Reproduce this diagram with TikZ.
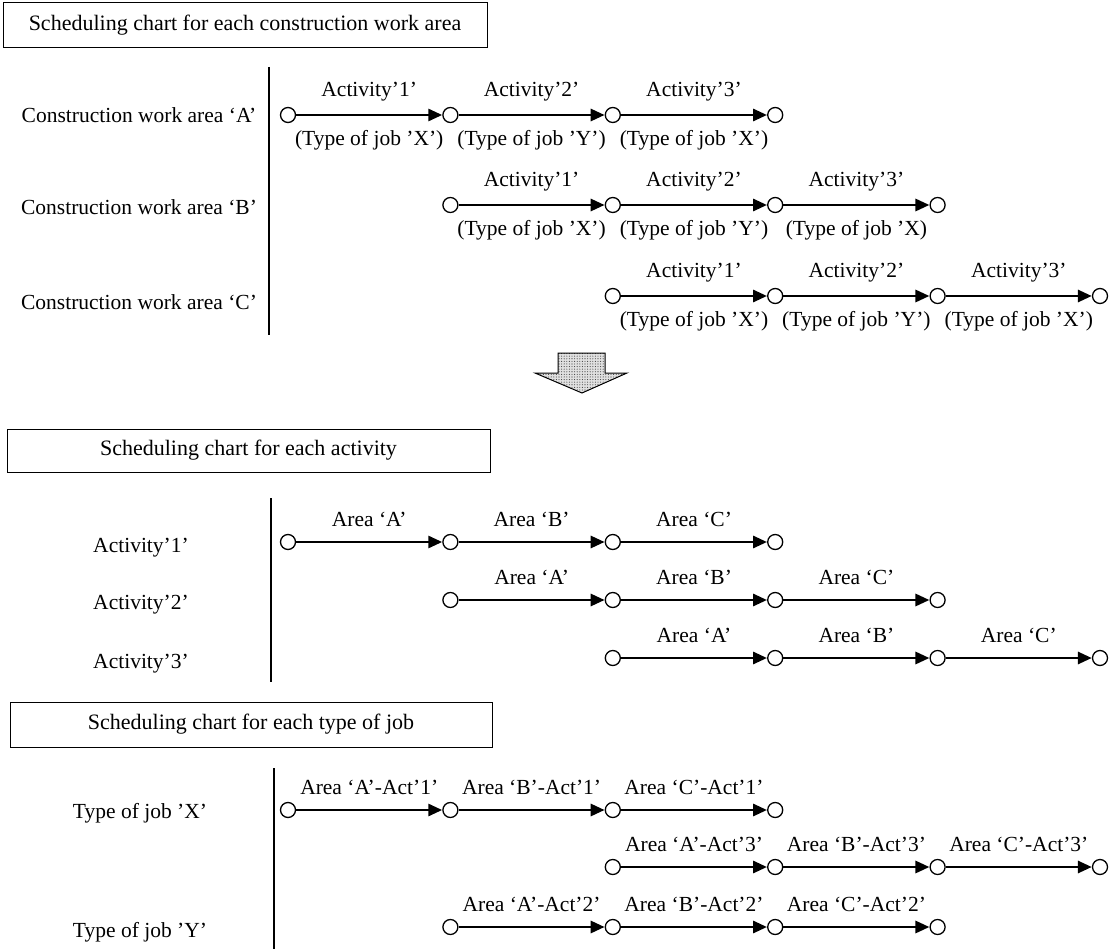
\documentclass[tikz,border=0pt]{standalone}
\usepackage{fontspec}
\setmainfont{Liberation Serif}
\usetikzlibrary{arrows.meta,patterns.meta}
\begin{document}
\begin{tikzpicture}[x=1pt,y=-1pt,
  txt/.style={font=\fontsize{21.5}{25}\selectfont, inner sep=0pt},
  rowlab/.style={txt},
  ev/.style={circle, draw, line width=1.3pt, minimum size=15pt, inner sep=0pt, fill=white},
  act/.style={line width=2.9pt, -{Triangle[length=14pt,width=12pt]}},
  tup/.style={txt, midway, yshift=23pt},
  tdn/.style={txt, midway, yshift=-25pt},
  axis/.style={line width=1.4pt}]
\useasboundingbox (0,0) rectangle (1113,949);
\newcommand{\evrow}[3]{\foreach \k in {0,...,3}{\node[ev] (#1\k) at ({288+162.4*(#3+\k)},#2) {};}}

% ---------- Section 1 ----------
\node[draw, line width=1pt, minimum width=484pt, minimum height=45pt, font=\fontsize{22}{26}\selectfont, inner sep=0pt] (box1) at (245,25.5) {Scheduling chart for each construction work area};
\coordinate (v1t) at (269,67);
\coordinate (v1b) at (269,335);
\draw[axis] (v1t) -- (v1b);
\node[rowlab] (la) at (139,115) {Construction work area ‘A’};
\node[rowlab] (lb) at (139,207) {Construction work area ‘B’};
\node[rowlab] (lc) at (139,302) {Construction work area ‘C’};

\evrow{ra}{115}{0}
\draw[act] (ra0) -- (ra1) node[tup]{Activity’1’} node[tdn]{(Type of job ’X’)};
\draw[act] (ra1) -- (ra2) node[tup]{Activity’2’} node[tdn]{(Type of job ’Y’)};
\draw[act] (ra2) -- (ra3) node[tup]{Activity’3’} node[tdn]{(Type of job ’X’)};

\evrow{rb}{205}{1}
\draw[act] (rb0) -- (rb1) node[tup]{Activity’1’} node[tdn]{(Type of job ’X’)};
\draw[act] (rb1) -- (rb2) node[tup]{Activity’2’} node[tdn]{(Type of job ’Y’)};
\draw[act] (rb2) -- (rb3) node[tup]{Activity’3’} node[tdn]{(Type of job ’X)};

\evrow{rc}{296}{2}
\draw[act] (rc0) -- (rc1) node[tup]{Activity’1’} node[tdn]{(Type of job ’X’)};
\draw[act] (rc1) -- (rc2) node[tup]{Activity’2’} node[tdn]{(Type of job ’Y’)};
\draw[act] (rc2) -- (rc3) node[tup]{Activity’3’} node[tdn]{(Type of job ’X’)};

% big arrow
\draw[line width=1pt, preaction={fill=black!12}, pattern={Dots[distance=2.6pt,radius=0.55pt]}, pattern color=black!75]
  (558,353) -- (605,353) -- (605,373) -- (627,373) -- (582,393) -- (535,373) -- (558,373) -- cycle;

% ---------- Section 2 ----------
\node[draw, line width=1pt, minimum width=483pt, minimum height=43pt, font=\fontsize{22}{26}\selectfont, inner sep=0pt] (box2) at (248.5,450.5) {Scheduling chart for each activity};
\coordinate (v2t) at (271,498);
\coordinate (v2b) at (271,682);
\draw[axis] (v2t) -- (v2b);
\node[rowlab] (l1) at (141,548) {Activity’1’};
\node[rowlab] (l2) at (141,605) {Activity’2’};
\node[rowlab] (l3) at (141,664) {Activity’3’};

\evrow{sa}{542}{0}
\draw[act] (sa0) -- (sa1) node[tup]{Area ‘A’};
\draw[act] (sa1) -- (sa2) node[tup]{Area ‘B’};
\draw[act] (sa2) -- (sa3) node[tup]{Area ‘C’};

\evrow{sb}{600}{1}
\draw[act] (sb0) -- (sb1) node[tup]{Area ‘A’};
\draw[act] (sb1) -- (sb2) node[tup]{Area ‘B’};
\draw[act] (sb2) -- (sb3) node[tup]{Area ‘C’};

\evrow{sc}{658}{2}
\draw[act] (sc0) -- (sc1) node[tup]{Area ‘A’};
\draw[act] (sc1) -- (sc2) node[tup]{Area ‘B’};
\draw[act] (sc2) -- (sc3) node[tup]{Area ‘C’};

% ---------- Section 3 ----------
\node[draw, line width=1pt, minimum width=482pt, minimum height=45pt, font=\fontsize{22}{26}\selectfont, inner sep=0pt] (box3) at (251,724.5) {Scheduling chart for each type of job};
\coordinate (v3t) at (274,768);
\coordinate (v3b) at (274,949);
\draw[axis] (v3t) -- (v3b);
\node[rowlab] (lx) at (140,813) {Type of job ’X’};
\node[rowlab] (ly) at (140,932) {Type of job ’Y’};

\evrow{ta}{810}{0}
\draw[act] (ta0) -- (ta1) node[tup]{Area ‘A’-Act’1’};
\draw[act] (ta1) -- (ta2) node[tup]{Area ‘B’-Act’1’};
\draw[act] (ta2) -- (ta3) node[tup]{Area ‘C’-Act’1’};

\evrow{tb}{867}{2}
\draw[act] (tb0) -- (tb1) node[tup]{Area ‘A’-Act’3’};
\draw[act] (tb1) -- (tb2) node[tup]{Area ‘B’-Act’3’};
\draw[act] (tb2) -- (tb3) node[tup]{Area ‘C’-Act’3’};

\evrow{tc}{927}{1}
\draw[act] (tc0) -- (tc1) node[tup]{Area ‘A’-Act’2’};
\draw[act] (tc1) -- (tc2) node[tup]{Area ‘B’-Act’2’};
\draw[act] (tc2) -- (tc3) node[tup]{Area ‘C’-Act’2’};
\end{tikzpicture}
\end{document}
